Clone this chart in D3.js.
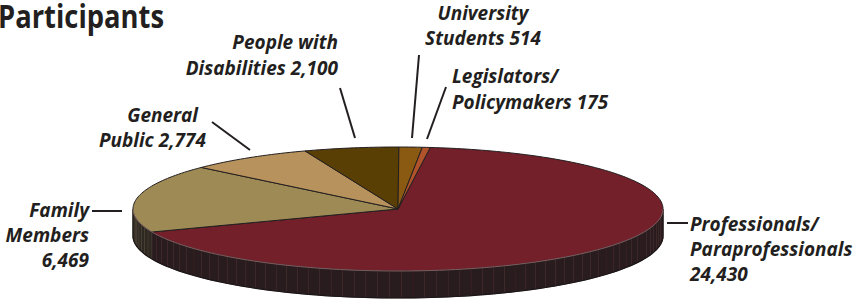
<!DOCTYPE html>
<html>
<head>
<meta charset="utf-8">
<script src="https://cdn.jsdelivr.net/npm/d3@7"></script>
<style>
  body { margin: 0; background: #fff; }
  svg { display: block; }
  text { font-family: "Open Sans", Lato, sans-serif; fill: #231f20; }
</style>
</head>
<body>
<div id="chart"></div>
<script>
WIDTH = 857;
HEIGHT = 300;

// data
var categories = ["Professionals/Paraprofessionals", "Family Members", "General Public",
  "People with Disabilities", "University Students", "Legislators/Policymakers"];
var values = [24430, 6469, 2774, 2100, 514, 175];
var sliceColors = ["#73202a", "#9e8a55", "#b8925c", "#5a3f05", "#8a5a12", "#b0532a"];
var labelLines = [
  ["Professionals/", "Paraprofessionals", "24,430"],
  ["Family", "Members", "6,469"],
  ["General", "Public 2,774"],
  ["People with", "Disabilities 2,100"],
  ["University", "Students 514"],
  ["Legislators/", "Policymakers 175"]
];

// pie geometry
var cx = 398, cy = 209, rx = 265, ry = 62, depth = 27;

var svg = d3.select("#chart").append("svg")
  .attr("width", WIDTH).attr("height", HEIGHT);

var side_g = svg.append("g");
var top_g = svg.append("g");
var label_g = svg.append("g");

var start = 7 * Math.PI / 180;
var pie = d3.pie().sort(null).value(d => d)
  .startAngle(start).endAngle(start + 2 * Math.PI);
var arcs = pie(values);

// angle clockwise from 12 o'clock -> screen point on the top ellipse
function px(a) { return cx + rx * Math.sin(a); }
function py(a) { return cy - ry * Math.cos(a); }

function slicePath(d) {
  var n = Math.max(2, Math.ceil((d.endAngle - d.startAngle) / 0.02));
  var a = d3.scaleLinear().domain([0, n]).range([d.startAngle, d.endAngle]);
  var pts = d3.range(n + 1).map(i => [px(a(i)), py(a(i))]);
  return "M" + cx + "," + cy + "L" + pts.map(p => p.join(",")).join("L") + "Z";
}

// front wall, split into narrow facets
arcs.forEach(function(d, i) {
  var a0 = Math.max(d.startAngle % (2 * Math.PI), Math.PI / 2);
  var a1 = Math.min(d.endAngle, 3 * Math.PI / 2);
  if (d.startAngle >= 3 * Math.PI / 2 || a1 <= a0) return;
  var step = 0.045;
  var n = Math.ceil((a1 - a0) / step);
  var sideFill = d3.interpolateRgb(sliceColors[i], "#1f1b1c")(0.88);
  var sideLine = d3.interpolateRgb(sliceColors[i], "#1f1b1c")(0.7);
  for (var k = 0; k < n; k++) {
    var t0 = a0 + (a1 - a0) * k / n, t1 = a0 + (a1 - a0) * (k + 1) / n;
    side_g.append("path")
      .attr("d", "M" + px(t0) + "," + py(t0) + "L" + px(t1) + "," + py(t1) +
        "L" + px(t1) + "," + (py(t1) + depth) + "L" + px(t0) + "," + (py(t0) + depth) + "Z")
      .attr("fill", sideFill)
      .attr("stroke", sideLine)
      .attr("stroke-width", 0.6);
  }
});

// bottom rim + outer edges of the wall
var rimPts = d3.range(0, 101).map(k => Math.PI / 2 + Math.PI * k / 100);
side_g.append("path")
  .attr("d", "M" + px(Math.PI / 2) + "," + py(Math.PI / 2) + "L" +
    rimPts.map(a => px(a) + "," + (py(a) + depth)).join("L") + "L" +
    px(3 * Math.PI / 2) + "," + py(3 * Math.PI / 2))
  .attr("fill", "none").attr("stroke", "#1a1617").attr("stroke-width", 1.2);

// top faces
top_g.selectAll("path.slice").data(arcs).enter().append("path")
  .attr("class", "slice")
  .attr("d", slicePath)
  .attr("fill", (d, i) => sliceColors[i])
  .attr("stroke", "#231f20")
  .attr("stroke-width", 1)
  .attr("stroke-linejoin", "round");

// light rim where the top meets the wall
top_g.append("path")
  .attr("d", "M" + rimPts.map(a => px(a) + "," + py(a)).join("L"))
  .attr("fill", "none").attr("stroke", "#c9a0a0").attr("stroke-width", 0.7).attr("opacity", 0.7);

// title (sits against the top-left edge, as in the source)
svg.append("text")
  .attr("x", -2).attr("y", 28)
  .attr("font-size", 32).attr("font-weight", 700)
  .attr("textLength", 166).attr("lengthAdjust", "spacingAndGlyphs")
  .text("Participants");

// label layout: anchor, x, first baseline, line step, leader line
var labelLayout = [
  { anchor: "start", x: 690, y: 231, step: 25, leader: [[667, 223], [688, 223]] },
  { anchor: "end", x: 89, y: 217, step: 25, leader: [[92, 211], [122, 211]] },
  { anchor: "end", x: 198, y: 122, step: 25, leader: [[212, 122], [250, 150]], dx: [0, 8] },
  { anchor: "end", x: 338, y: 49, step: 26, leader: [[340, 88], [355, 138]] },
  { anchor: "middle", x: 483, y: 20, step: 25, leader: [[419, 55], [412, 138]] },
  { anchor: "start", x: 452, y: 83, step: 26, leader: [[446, 87], [427, 139]] }
];

labelLines.forEach(function(lines, i) {
  var L = labelLayout[i];
  var t = label_g.append("text")
    .attr("text-anchor", L.anchor)
    .attr("font-size", 19)
    .attr("font-weight", 700)
    .attr("font-style", "italic");
  lines.forEach(function(s, j) {
    t.append("tspan")
      .attr("x", L.x + (L.dx ? L.dx[j] : 0))
      .attr("y", L.y + j * L.step)
      .text(s);
  });
  label_g.append("line")
    .attr("x1", L.leader[0][0]).attr("y1", L.leader[0][1])
    .attr("x2", L.leader[1][0]).attr("y2", L.leader[1][1])
    .attr("stroke", "#231f20").attr("stroke-width", 2);
});
</script>
</body>
</html>
